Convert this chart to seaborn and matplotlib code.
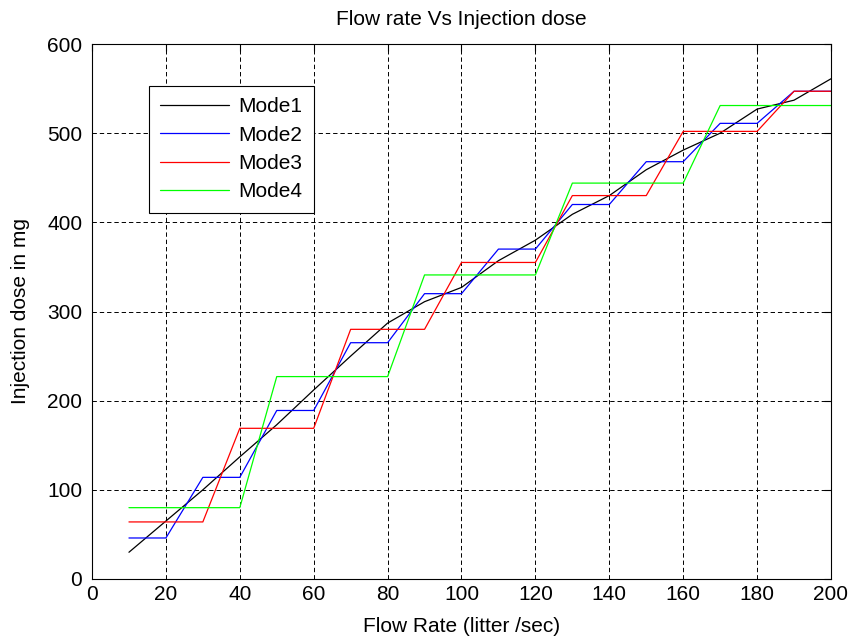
import numpy as np
import pandas as pd
import matplotlib
matplotlib.use("Agg")
import matplotlib.pyplot as plt
import seaborn as sns

# DATA
flow = [10, 20, 30, 40, 50, 60, 70, 80, 90, 100,
        110, 120, 130, 140, 150, 160, 170, 180, 190, 200]

mode1 = [30, 65, 100, 137, 173, 212, 250, 287, 311, 327,
         357, 380, 409, 430, 459, 481, 500, 527, 537, 561]
mode2 = [46, 46, 114, 114, 189, 189, 265, 265, 320, 320,
         370, 370, 420, 420, 468, 468, 511, 511, 547, 547]
mode3 = [64, 64, 64, 169, 169, 169, 280, 280, 280, 355,
         355, 355, 430, 430, 430, 502, 502, 502, 547, 547]
mode4 = [80, 80, 80, 80, 227, 227, 227, 227, 341, 341,
         341, 341, 444, 444, 444, 444, 531, 531, 531, 531]

modes = ["Mode1", "Mode2", "Mode3", "Mode4"]
colors = ["black", "blue", "red", "#00ff00"]

df = pd.DataFrame({
    "flow": flow * 4,
    "dose": mode1 + mode2 + mode3 + mode4,
    "mode": np.repeat(modes, len(flow)),
})

sns.set_style("white")
plt.rcParams["font.family"] = ["Liberation Sans", "DejaVu Sans"]
plt.rcParams["text.color"] = "black"
plt.rcParams["axes.labelcolor"] = "black"
fs = 15

fig = plt.figure(figsize=(8.54, 6.41), dpi=100)
ax = fig.add_axes([92 / 854, 1 - 579 / 641, 739 / 854, 535 / 641])

sns.lineplot(data=df, x="flow", y="dose", hue="mode", palette=colors,
             linewidth=0.9, ax=ax)

ax.set_xlim(0, 200)
ax.set_ylim(0, 600)
ax.set_xticks(range(0, 201, 20))
ax.set_yticks(range(0, 601, 100))
ax.grid(True, color="black", linestyle=(0, (4.5, 3)), linewidth=0.7)
ax.tick_params(direction="in", top=True, right=True, length=5,
               labelsize=fs, colors="black")
ax.tick_params(axis="x", pad=4)
ax.tick_params(axis="y", pad=7)
for s in ax.spines.values():
    s.set_color("black")
    s.set_linewidth(0.8)

ax.set_title("Flow rate Vs Injection dose", fontsize=fs, pad=14, color="black")
ax.set_xlabel("Flow Rate (litter /sec)", fontsize=fs, labelpad=10)
ax.set_ylabel("Injection dose in mg", fontsize=fs, labelpad=12)

leg = ax.legend(loc="upper left", bbox_to_anchor=(0.077, 0.922),
                borderaxespad=0, fancybox=False, framealpha=1,
                edgecolor="black", fontsize=fs, handlelength=3.3,
                labelspacing=0.45, borderpad=0.55, handletextpad=0.45)
leg.get_frame().set_linewidth(0.8)
for line in leg.get_lines():
    line.set_linewidth(0.9)
for t in leg.get_texts():
    t.set_color("black")

fig.savefig("out.png", dpi=100)
